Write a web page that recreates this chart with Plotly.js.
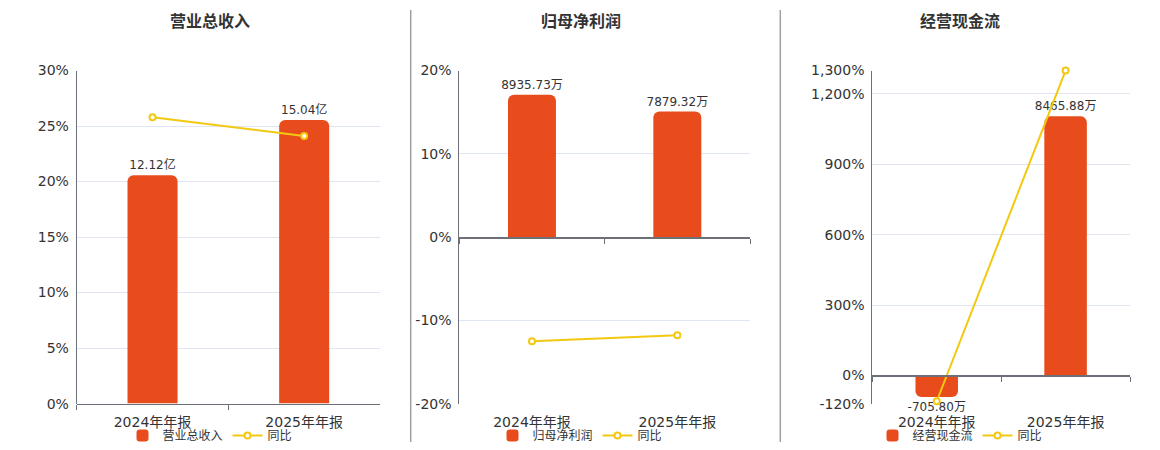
<!DOCTYPE html>
<html>
<head>
<meta charset="utf-8">
<script src="https://cdn.plot.ly/plotly-3.0.1.min.js"></script>
<style>
  html, body { margin: 0; padding: 0; background: #fff; }
  #chart { width: 1160px; height: 450px; }
</style>
</head>
<body>
<div id="chart"></div>
<script>
// data
const categories = ['2024年年报', '2025年年报'];

const revenue = [12.12, 15.04];          // 亿
const revenueYoy = [25.8, 24.1];         // %
const netProfit = [8935.73, 7879.32];    // 万
const netProfitYoy = [-12.5, -11.8];     // %
const cashFlow = [-705.80, 8465.88];     // 万
const cashFlowYoy = [-110, 1300];        // %

const W = 1160, H = 450;
const BAR = '#E84C1D';
const LINE = '#F2C811';
const FONT = 'DejaVu Sans, "Noto Sans CJK SC", sans-serif';
const GRID = '#E0E6F1';
const AXIS = '#6E7079';

// pixels -> paper
const px = v => v / W;
const py = v => 1 - v / H;

const yDom = [py(404.5), py(70.7)];
const catRange = [-0.5, categories.length - 0.5];

const panels = [
  {
    title: '营业总收入', name: '营业总收入', titleX: 210,
    xDom: [px(76.7), px(380)],
    bars: revenue, barText: revenue.map(v => v.toFixed(2) + '亿'),
    barRange: [0, 17.67],
    yoy: revenueYoy, pctRange: [0, 30],
    tickvals: [0, 5, 10, 15, 20, 25, 30],
    legendX: 210
  },
  {
    title: '归母净利润', name: '归母净利润', titleX: 581,
    xDom: [px(459.3), px(750)],
    bars: netProfit, barText: netProfit.map(v => v.toFixed(2) + '万'),
    barRange: [-10451, 10451],
    yoy: netProfitYoy, pctRange: [-20, 20],
    tickvals: [-20, -10, 0, 10, 20],
    legendX: 580
  },
  {
    title: '经营现金流', name: '经营现金流', titleX: 960,
    xDom: [px(872.3), px(1130)],
    bars: cashFlow, barText: cashFlow.map(v => v.toFixed(2) + '万'),
    barRange: [-919.7, 9963.4],
    yoy: cashFlowYoy, pctRange: [-120, 1300],
    tickvals: [-120, 0, 300, 600, 900, 1200, 1300],
    legendX: 960
  }
];

const fmtPct = v => v.toLocaleString('en-US') + '%';

const data = [];
const layout = {
  width: W, height: H,
  margin: {l: 0, r: 0, t: 0, b: 0},
  paper_bgcolor: '#fff', plot_bgcolor: 'rgba(0,0,0,0)',
  font: {family: FONT, color: '#333', size: 12},
  barcornerradius: 6,
  annotations: [],
  shapes: []
};

panels.forEach((p, i) => {
  const n = i + 1;
  const xLab = 'x' + (n === 1 ? '' : n);     // category labels, carries bars
  const xLine = 'x' + (n + 3);               // axis line at 0%, carries yoy line
  const yBar = 'y' + (2 * n - 1 === 1 ? '' : 2 * n - 1);   // hidden, bars + grid
  const yPct = 'y' + (2 * n);                // visible percent axis
  const leg = 'legend' + (n === 1 ? '' : n);

  const pSpan = p.pctRange[1] - p.pctRange[0];
  const bSpan = p.barRange[1] - p.barRange[0];
  const toBar = t => p.barRange[0] + (t - p.pctRange[0]) / pSpan * bSpan;

  // where 0% sits, in paper units
  const zeroPos = yDom[0] + (0 - p.pctRange[0]) / pSpan * (yDom[1] - yDom[0]);

  data.push({
    type: 'bar', name: p.name, x: categories, y: p.bars,
    xaxis: xLab, yaxis: yBar, legend: leg,
    width: 0.33,
    marker: {color: BAR},
    text: p.barText, textposition: 'outside', cliponaxis: false,
    constraintext: 'none',
    textfont: {size: 12, color: '#333', family: FONT},
    hoverinfo: 'skip'
  });
  data.push({
    type: 'scatter', mode: 'lines+markers', name: '同比',
    x: categories, y: p.yoy,
    xaxis: xLine, yaxis: yPct, legend: leg,
    line: {color: LINE, width: 2},
    marker: {symbol: 'circle', size: 6, color: '#fff', line: {color: LINE, width: 2}},
    cliponaxis: false,
    hoverinfo: 'skip'
  });

  layout[n === 1 ? 'xaxis' : 'xaxis' + n] = {
    domain: p.xDom, anchor: yBar, range: catRange,
    type: 'category', showgrid: false, showline: false, zeroline: false,
    ticks: '', tickfont: {size: 14, color: '#333'},
    ticklabelstandoff: 8,
    fixedrange: true
  };
  layout['xaxis' + (n + 3)] = {
    domain: p.xDom, overlaying: xLab, anchor: 'free', position: zeroPos,
    type: 'category', range: catRange, showgrid: false, zeroline: false,
    showline: true, linecolor: AXIS, linewidth: 1.5,
    ticks: 'outside', tickson: 'boundaries', ticklen: 5, tickcolor: AXIS,
    showticklabels: false, fixedrange: true
  };
  // hidden bar axis, draws the grid under the bars
  layout[n === 1 ? 'yaxis' : 'yaxis' + (2 * n - 1)] = {
    domain: yDom, anchor: xLab, range: p.barRange,
    tickvals: p.tickvals.map(toBar),
    showgrid: true, gridcolor: GRID, gridwidth: 1,
    showticklabels: false, ticks: '', showline: false, zeroline: false,
    fixedrange: true
  };
  layout['yaxis' + (2 * n)] = {
    domain: yDom, overlaying: yBar, anchor: xLab, side: 'left',
    range: p.pctRange,
    tickvals: p.tickvals, ticktext: p.tickvals.map(fmtPct),
    showgrid: false, zeroline: false,
    showline: true, linecolor: AXIS, linewidth: 1,
    ticks: '', tickfont: {size: 14, color: '#333'},
    ticklabelstandoff: 4,
    fixedrange: true
  };
  layout[leg] = {
    orientation: 'h', x: px(p.legendX), xanchor: 'center',
    y: py(436), yanchor: 'middle',
    font: {size: 12, color: '#333'},
    itemwidth: 30, tracegroupgap: 0, bgcolor: 'rgba(0,0,0,0)'
  };
  layout.annotations.push({
    text: '<b>' + p.title + '</b>', xref: 'paper', yref: 'paper',
    x: px(p.titleX), y: py(22), xanchor: 'center', yanchor: 'middle',
    showarrow: false, font: {size: 16, color: '#333'}
  });
});

// panel separators
[410.7, 780.3].forEach(xv => {
  layout.shapes.push({
    type: 'line', xref: 'paper', yref: 'paper',
    x0: px(xv), x1: px(xv), y0: py(10), y1: py(443),
    line: {color: '#A0A0A0', width: 1.5}
  });
});

Plotly.newPlot('chart', data, layout, {displayModeBar: false, staticPlot: true});
</script>
</body>
</html>
